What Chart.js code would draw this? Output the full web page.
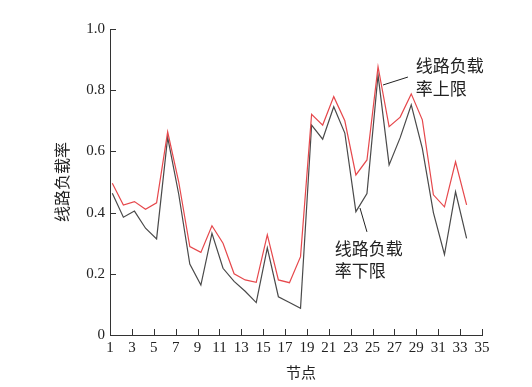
<!DOCTYPE html>
<html lang="zh">
<head>
    <meta charset="UTF-8">
    <title>线路负载率</title>
    <script src="https://cdn.jsdelivr.net/npm/chart.js"></script>
    <style>
        html, body { margin: 0; padding: 0; background: #fff; }
        #wrap { width: 532px; height: 387px; }
    </style>
</head>
<body>
    <div id="wrap"><canvas id="loadChart" width="532" height="387"></canvas></div>

    <script>
        // nodes and load rates
        const nodes = [1, 2, 3, 4, 5, 6, 7, 8, 9, 10, 11, 12, 13, 14, 15, 16, 17,
                       18, 19, 20, 21, 22, 23, 24, 25, 26, 27, 28, 29, 30, 31, 32, 33];
        const upperRate = [0.496, 0.425, 0.436, 0.411, 0.432, 0.664, 0.50, 0.289, 0.27, 0.357, 0.30,
                           0.20, 0.18, 0.172, 0.327, 0.18, 0.171, 0.256, 0.721, 0.686, 0.779, 0.70,
                           0.523, 0.572, 0.877, 0.681, 0.712, 0.788, 0.703, 0.458, 0.419, 0.566, 0.425];
        const lowerRate = [0.463, 0.385, 0.405, 0.349, 0.314, 0.646, 0.46, 0.232, 0.163, 0.332, 0.218,
                           0.175, 0.143, 0.106, 0.285, 0.125, 0.106, 0.087, 0.686, 0.64, 0.746, 0.66,
                           0.403, 0.462, 0.85, 0.556, 0.645, 0.752, 0.61, 0.40, 0.263, 0.468, 0.316];
        const yTicks = [0, 0.2, 0.4, 0.6, 0.8, 1.0];

        const serif = '"Liberation Serif", "Times New Roman", serif';
        const cjk = '"Noto Sans CJK SC", sans-serif';

        // axis titles, annotations and inward tick marks
        const decorPlugin = {
            id: 'decor',
            afterDraw(chart) {
                const c = chart.ctx;
                const xs = chart.scales.x, ys = chart.scales.y, xd = chart.scales.xd;
                const area = chart.chartArea;
                c.save();
                c.strokeStyle = '#333';
                c.lineWidth = 1;
                c.beginPath();
                yTicks.forEach(v => {
                    if (v === 0) return;
                    const py = Math.round(ys.getPixelForValue(v)) + 0.5;
                    c.moveTo(area.left, py);
                    c.lineTo(area.left + 6, py);
                });
                for (let v = 3; v <= 35; v += 2) {
                    const px = Math.round(xs.getPixelForValue(v)) + 0.5;
                    c.moveTo(px, area.bottom);
                    c.lineTo(px, area.bottom - 6);
                }
                c.stroke();

                // axis titles
                c.fillStyle = '#222';
                c.font = '15px ' + cjk;
                c.textAlign = 'center';
                c.textBaseline = 'middle';
                c.fillText('节点', (area.left + area.right) / 2 + 5, 372);
                c.save();
                c.font = '16px ' + cjk;
                c.translate(62, (area.top + area.bottom) / 2);
                c.rotate(-Math.PI / 2);
                c.fillText('线路负载率', 0, 0);
                c.restore();

                // annotations with leader lines
                const P = (x, y) => [xd.getPixelForValue(x), ys.getPixelForValue(y)];
                c.strokeStyle = '#222';
                c.beginPath();
                let a = P(25.45, 0.817), b = P(27.7, 0.843);
                c.moveTo(a[0], a[1]); c.lineTo(b[0], b[1]);
                a = P(23.37, 0.415); b = P(24.0, 0.337);
                c.moveTo(a[0], a[1]); c.lineTo(b[0], b[1]);
                c.stroke();

                c.font = '17px ' + cjk;
                c.textAlign = 'left';
                let t = P(28.4, 0.879);
                c.fillText('线路负载', t[0], t[1]);
                t = P(28.4, 0.807);
                c.fillText('率上限', t[0], t[1]);
                t = P(21.1, 0.282);
                c.fillText('线路负载', t[0], t[1]);
                t = P(21.1, 0.212);
                c.fillText('率下限', t[0], t[1]);
                c.restore();
            }
        };

        const ctx = document.getElementById('loadChart').getContext('2d');
        const loadChart = new Chart(ctx, {
            type: 'line',
            data: {
                datasets: [{
                    label: '线路负载率上限',
                    data: nodes.map((n, i) => ({ x: n, y: upperRate[i] })),
                    borderColor: '#e6484c',
                    borderWidth: 1.2,
                    pointRadius: 0,
                    tension: 0,
                    xAxisID: 'xd'
                }, {
                    label: '线路负载率下限',
                    data: nodes.map((n, i) => ({ x: n, y: lowerRate[i] })),
                    borderColor: '#4a4a4a',
                    borderWidth: 1.2,
                    pointRadius: 0,
                    tension: 0,
                    xAxisID: 'xd'
                }]
            },
            options: {
                responsive: false,
                animation: false,
                events: [],
                layout: { padding: { top: 29, right: 50, left: 0, bottom: 0 } },
                plugins: { legend: { display: false }, tooltip: { enabled: false } },
                scales: {
                    x: {
                        type: 'linear',
                        position: 'bottom',
                        min: 1,
                        max: 35,
                        grid: { drawOnChartArea: false, drawTicks: false },
                        border: { display: true, color: '#333', width: 1 },
                        ticks: {
                            stepSize: 2,
                            autoSkip: false,
                            maxRotation: 0,
                            padding: 4,
                            color: '#222',
                            font: { family: serif, size: 15 }
                        },
                        afterFit(scale) { scale.height = 52; }
                    },
                    xd: {
                        type: 'linear',
                        display: false,
                        min: 0.792,
                        max: 34.39
                    },
                    y: {
                        min: 0,
                        max: 1,
                        afterBuildTicks(scale) { scale.ticks = yTicks.map(v => ({ value: v })); },
                        grid: { drawOnChartArea: false, drawTicks: false },
                        border: { display: true, color: '#333', width: 1 },
                        ticks: {
                            padding: 5,
                            color: '#222',
                            font: { family: serif, size: 15 },
                            callback: v => v === 0 ? '0' : v.toFixed(1)
                        },
                        afterFit(scale) { scale.width = 110; }
                    }
                }
            },
            plugins: [decorPlugin]
        });
    </script>
</body>
</html>
